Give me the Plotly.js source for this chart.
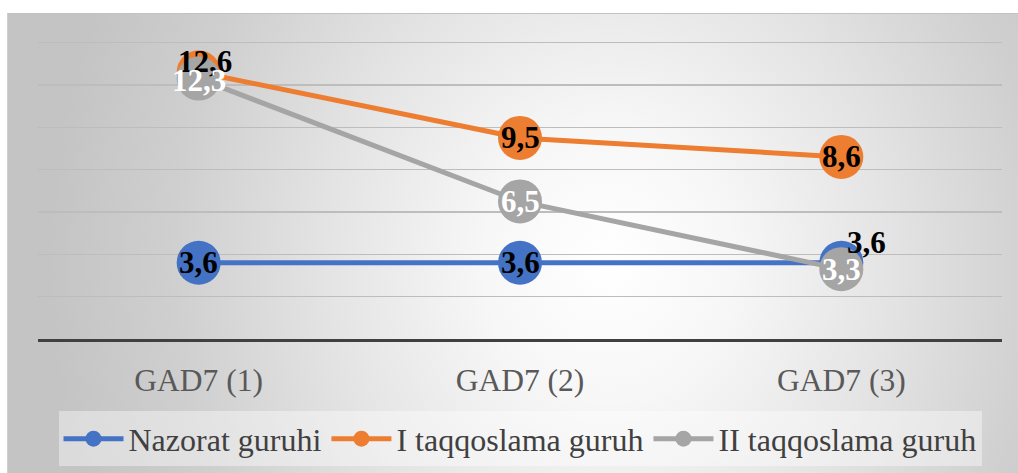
<!DOCTYPE html>
<html>
<head>
<meta charset="utf-8">
<script src="https://cdn.plot.ly/plotly-3.0.1.min.js"></script>
<style>
  html, body { margin: 0; padding: 0; background: #ffffff; }
  #wrap { position: relative; width: 1018px; height: 473px; overflow: hidden; }
  #bg { position: absolute; left: 7px; top: 13px; width: 1011px; height: 460px;
        box-sizing: border-box; border-top: 1px solid #c2c2c2; border-left: 1px solid #d0d0d0;
        background: radial-gradient(ellipse 560px 620px at 600px 250px, #ffffff 0%, #f7f7f7 22%, #e4e4e4 50%, #cfcfcf 78%, #c4c4c4 100%); }
  #chart { position: absolute; left: 0; top: 0; width: 1018px; height: 473px; }
</style>
</head>
<body>
<div id="wrap">
  <div id="bg"></div>
  <div id="chart"></div>
</div>
<script>
// ---- data ----
const categories = ["GAD7 (1)", "GAD7 (2)", "GAD7 (3)"];
const seriesNames = ["Nazorat guruhi", "I taqqoslama guruh", "II taqqoslama guruh"];
const nazorat = [3.6, 3.6, 3.6];
const taqqoslama1 = [12.6, 9.5, 8.6];
const taqqoslama2 = [12.3, 6.5, 3.3];

// ---- styles ----
const colors = ["#4472C4", "#ED7D31", "#A5A5A5"];
const labelColors = ["#000000", "#000000", "#ffffff"];
const serif = "Liberation Serif";
// label offsets (px) per series, per point
const labelShiftX = [[0, 0, 25], [6, 0, 0], [0, 0, 0]];
const labelShiftY = [[0, 0, 20], [11, 0, 0], [-2, 0, 0]];

const allSeries = [nazorat, taqqoslama1, taqqoslama2];

const traces = allSeries.map((vals, i) => ({
  type: "scatter",
  mode: "lines+markers",
  x: categories,
  y: vals,
  name: seriesNames[i],
  line: { color: colors[i], width: 5 },
  marker: { color: colors[i], size: 44 },
  hoverinfo: "skip",
  cliponaxis: false
}));

const fmt = v => v.toFixed(1).replace(".", ",");

const annotations = [];
allSeries.forEach((vals, i) => {
  vals.forEach((v, j) => {
    annotations.push({
      x: categories[j], y: v, xref: "x", yref: "y",
      text: "<b>" + fmt(v) + "</b>",
      showarrow: false,
      xshift: labelShiftX[i][j], yshift: labelShiftY[i][j],
      font: { family: serif, size: 31, color: labelColors[i] }
    });
  });
});

const layout = {
  width: 1018, height: 473,
  paper_bgcolor: "rgba(0,0,0,0)",
  plot_bgcolor: "rgba(0,0,0,0)",
  font: { family: serif },
  margin: { l: 38, r: 16, t: 13, b: 133.5, pad: 0, autoexpand: false },
  showlegend: true,
  legend: {
    orientation: "h",
    x: 0.5, xanchor: "center",
    y: -0.222, yanchor: "top",
    bgcolor: "rgba(255,255,255,0.4)",
    font: { family: serif, size: 32, color: "#404040" },
    itemwidth: 60,
    traceorder: "normal"
  },
  xaxis: {
    type: "category",
    range: [-0.5, 2.5],
    showgrid: false,
    zeroline: false,
    showline: true, linecolor: "#404040", linewidth: 3,
    ticks: "",
    ticklabelstandoff: 11,
    tickfont: { family: serif, size: 31.5, color: "#595959" },
    fixedrange: true
  },
  yaxis: {
    range: [0, 15.4],
    dtick: 2, tick0: 0,
    showticklabels: false,
    showgrid: true, gridcolor: "#bdbdbd", gridwidth: 1.3,
    zeroline: false,
    showline: false,
    ticks: "",
    fixedrange: true
  },
  annotations: annotations
};

Plotly.newPlot("chart", traces, layout, { displayModeBar: false, staticPlot: true });
</script>
</body>
</html>
